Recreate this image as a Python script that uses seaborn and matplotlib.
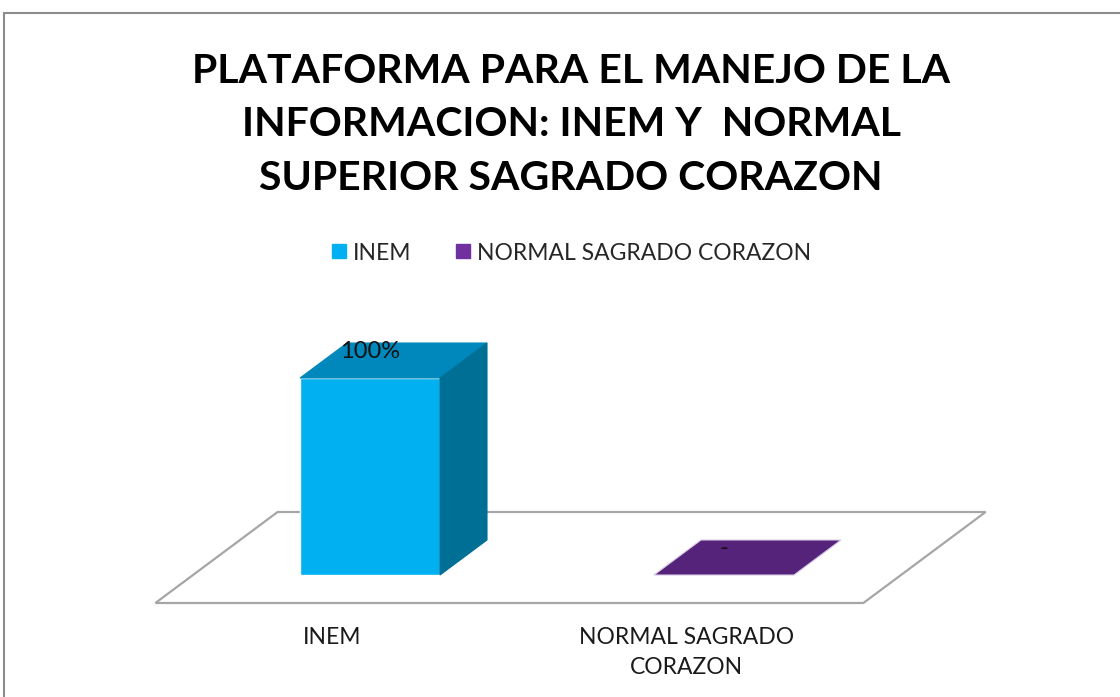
import matplotlib
matplotlib.use('Agg')
import matplotlib.pyplot as plt
import seaborn as sns
import pandas as pd
from matplotlib.patches import Polygon, Rectangle
from matplotlib.lines import Line2D

# ---- data ----
categories = ['INEM', 'NORMAL SAGRADO CORAZON']
tick_labels = ['INEM', 'NORMAL SAGRADO\nCORAZON']
values = [1.0, 0.0]
value_labels = ['100%', '-']
legend_labels = ['INEM', 'NORMAL SAGRADO CORAZON']
title = 'PLATAFORMA PARA EL MANEJO DE LA\nINFORMACION: INEM Y  NORMAL\nSUPERIOR SAGRADO CORAZON'

front_colors = ['#00B0F0', '#7030A0']
top_colors = ['#0088BC', '#55247A']
side_colors = ['#006F96', '#451D63']

sns.set_theme(style='white')
plt.rcParams['font.family'] = ['Lato', 'DejaVu Sans']

W, H = 1120, 697
fig = plt.figure(figsize=(W / 100, H / 100), dpi=100)
fig.patch.set_facecolor('white')

# chart frame (extends beyond right/bottom edge)
fig.add_artist(Rectangle((4 / W, -0.1), 1.2, 1 - 13 / H + 0.1, transform=fig.transFigure,
                         fill=False, edgecolor='#8C8C8C', lw=1.5))

ax = fig.add_axes([193 / W, 122 / H, 708 / W, 197 / H])
df = pd.DataFrame({'cat': categories, 'val': values})
sns.barplot(data=df, x='cat', y='val', hue='cat', palette=front_colors,
            width=140 / 354, ax=ax, legend=False, saturation=1, zorder=3)
ax.set_xlim(-0.5, 1.5)
ax.set_ylim(0, 1)
ax.axis('off')

# depth offset in data units
dx = 47 / 354
dy = 35 / 197

# floor
x0, x1 = ax.get_xlim()
floor = Polygon([(x0 - 0.8 * dx, -0.8 * dy), (x1 - 0.8 * dx, -0.8 * dy),
                 (x1 + 1.8 * dx, 1.8 * dy), (x0 + 1.8 * dx, 1.8 * dy)],
                closed=True, facecolor='white', edgecolor='#A6A6A6', lw=1.6,
                zorder=1, clip_on=False)
ax.add_patch(floor)

for i, p in enumerate(ax.patches[:len(values)]):
    if p is floor:
        continue
    bx, bw, bh = p.get_x(), p.get_width(), p.get_height()
    p.set_clip_on(False)
    top = Polygon([(bx, bh), (bx + bw, bh), (bx + bw + dx, bh + dy), (bx + dx, bh + dy)],
                  closed=True, facecolor=top_colors[i], edgecolor='#D8C8E8' if bh == 0 else top_colors[i],
                  lw=0.8, zorder=4, clip_on=False)
    ax.add_patch(top)
    if bh > 0:
        side = Polygon([(bx + bw, 0), (bx + bw + dx, dy), (bx + bw + dx, bh + dy), (bx + bw, bh)],
                       closed=True, facecolor=side_colors[i], edgecolor=side_colors[i],
                       lw=0.8, zorder=4, clip_on=False)
        ax.add_patch(side)
    ax.text(bx + bw / 2, bh + 0.75 * dy, value_labels[i], ha='center', va='center',
            fontsize=17, color='#111111', zorder=6, clip_on=False)

# category labels at the front edge of the floor
for i, lab in enumerate(tick_labels):
    ax.text(i - 0.8 * dx, -0.8 * dy, lab, ha='center', va='top', fontsize=16.5,
            color='#1a1a1a', linespacing=1.55,
            transform=ax.transData + matplotlib.transforms.ScaledTranslation(0, -24 / 100, fig.dpi_scale_trans))

# legend
handles = [Line2D([0], [0], marker='s', color='none', markerfacecolor=c, markeredgecolor=c,
                  markersize=10) for c in front_colors]
fig.legend(handles, legend_labels, loc='center', bbox_to_anchor=(571 / W, 1 - 253 / H),
           ncol=2, frameon=False, fontsize=16.5, handlelength=0.7, handletextpad=0.25,
           columnspacing=1.9)

fig.text(571 / W, 1 - 125 / H, title, ha='center', va='center', fontsize=29.5,
         fontweight='bold', color='black', linespacing=1.55)

fig.savefig('out.png', dpi=100, facecolor='white')
